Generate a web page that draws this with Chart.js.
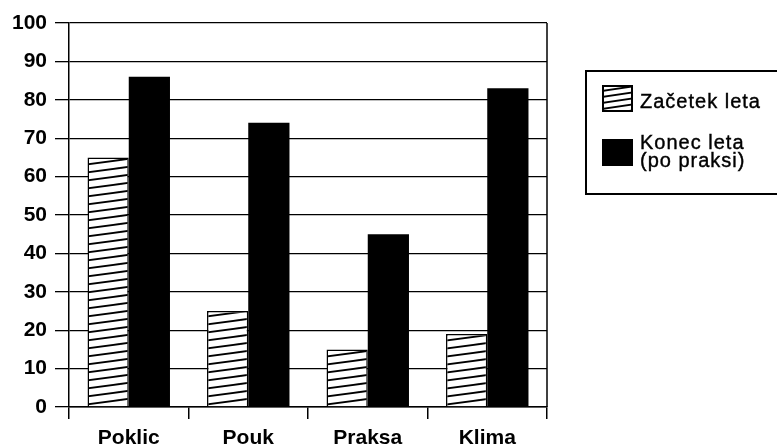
<!DOCTYPE html>
<html>
<head>
<meta charset="utf-8">
<script src="https://cdn.jsdelivr.net/npm/chart.js@4"></script>
<style>
  body { margin: 0; background: #fff; }
  #wrap { position: relative; width: 777px; height: 448px; overflow: hidden; }
  #legend {
    position: absolute; left: 585px; top: 70px; width: 210px; height: 121px;
    border: 2px solid #000; font-family: "Liberation Sans", Arial, sans-serif;
    font-size: 20px; letter-spacing: 1px; color: #000;
    -webkit-text-stroke: 0.4px #000;
  }
  .sw { position: absolute; left: 15px; width: 31px; height: 27px; box-sizing: border-box; }
  .lab { position: absolute; left: 53px; line-height: 18px; }
</style>
</head>
<body>
<div id="wrap">
  <canvas id="chart" width="777" height="448"></canvas>
  <div id="legend">
    <canvas class="sw" id="sw1" width="31" height="27" style="top:13px"></canvas>
    <div class="lab" style="top:20px">Začetek leta</div>
    <div class="sw" style="top:67px;background:#000"></div>
    <div class="lab" style="top:61px">Konec leta<br>(po praksi)</div>
  </div>
</div>
<script>
// data
const categories = ['Poklic', 'Pouk', 'Praksa', 'Klima'];
const zacetekLeta = [65, 25, 15, 19];
const konecLeta = [86, 74, 45, 83];
const yTicks = [0, 10, 20, 30, 40, 50, 60, 70, 80, 90, 100];

// shallow diagonal hatch, like the scanned original
function hatchTile(w, h) {
    const c = document.createElement('canvas');
    c.width = w; c.height = h;
    const g = c.getContext('2d');
    g.fillStyle = '#fff';
    g.fillRect(0, 0, w, h);
    g.strokeStyle = '#000';
    g.lineWidth = 1.8;
    for (let k = -1; k <= 1; k++) {
        g.beginPath();
        g.moveTo(0, h + k * h);
        g.lineTo(w, k * h);
        g.stroke();
    }
    return c;
}
const ctx = document.getElementById('chart').getContext('2d');
const hatch = ctx.createPattern(hatchTile(60, 8), 'repeat');

// legend swatch
const s = document.getElementById('sw1').getContext('2d');
s.fillStyle = s.createPattern(hatchTile(40, 6), 'repeat');
s.fillRect(0, 0, 31, 27);
s.strokeStyle = '#000';
s.lineWidth = 2;
s.strokeRect(1, 1, 29, 25);

const rightBorder = {
    id: 'rightBorder',
    afterDraw(chart) {
        const a = chart.chartArea;
        const c = chart.ctx;
        c.save();
        c.strokeStyle = '#000';
        c.lineWidth = 1.5;
        c.beginPath();
        c.moveTo(a.right, a.top);
        c.lineTo(a.right, a.bottom);
        c.stroke();
        c.restore();
    }
};

const tickFont = { family: '"Liberation Sans", Arial, sans-serif', size: 21, weight: 'bold' };

new Chart(ctx, {
    type: 'bar',
    data: {
        labels: categories,
        datasets: [{
            label: 'Začetek leta',
            data: zacetekLeta,
            backgroundColor: hatch,
            borderColor: '#000',
            borderWidth: 1.5
        }, {
            label: 'Konec leta (po praksi)',
            data: konecLeta,
            backgroundColor: '#000',
            borderColor: '#000',
            borderWidth: 0
        }]
    },
    options: {
        responsive: false,
        animation: false,
        layout: { padding: { left: 0, right: 230, top: 23, bottom: 0 } },
        plugins: {
            legend: { display: false },
            tooltip: { enabled: false }
        },
        datasets: {
            bar: { categoryPercentage: 0.69, barPercentage: 1 }
        },
        scales: {
            x: {
                afterFit: scale => { scale.height = 41; },
                grid: {
                    offset: true,
                    drawOnChartArea: false,
                    tickLength: 12,
                    color: '#000',
                    lineWidth: 1.5
                },
                border: { color: '#000', width: 1.5 },
                ticks: { color: '#000', padding: 7, font: tickFont }
            },
            y: {
                min: 0,
                max: 100,
                afterFit: scale => { scale.width = 69; },
                afterBuildTicks: scale => { scale.ticks = yTicks.map(v => ({ value: v })); },
                grid: {
                    color: '#000',
                    lineWidth: 1.3,
                    tickLength: 14
                },
                border: { color: '#000', width: 1.5 },
                ticks: { color: '#000', padding: 8, font: tickFont }
            }
        }
    },
    plugins: [rightBorder]
});
</script>
</body>
</html>
